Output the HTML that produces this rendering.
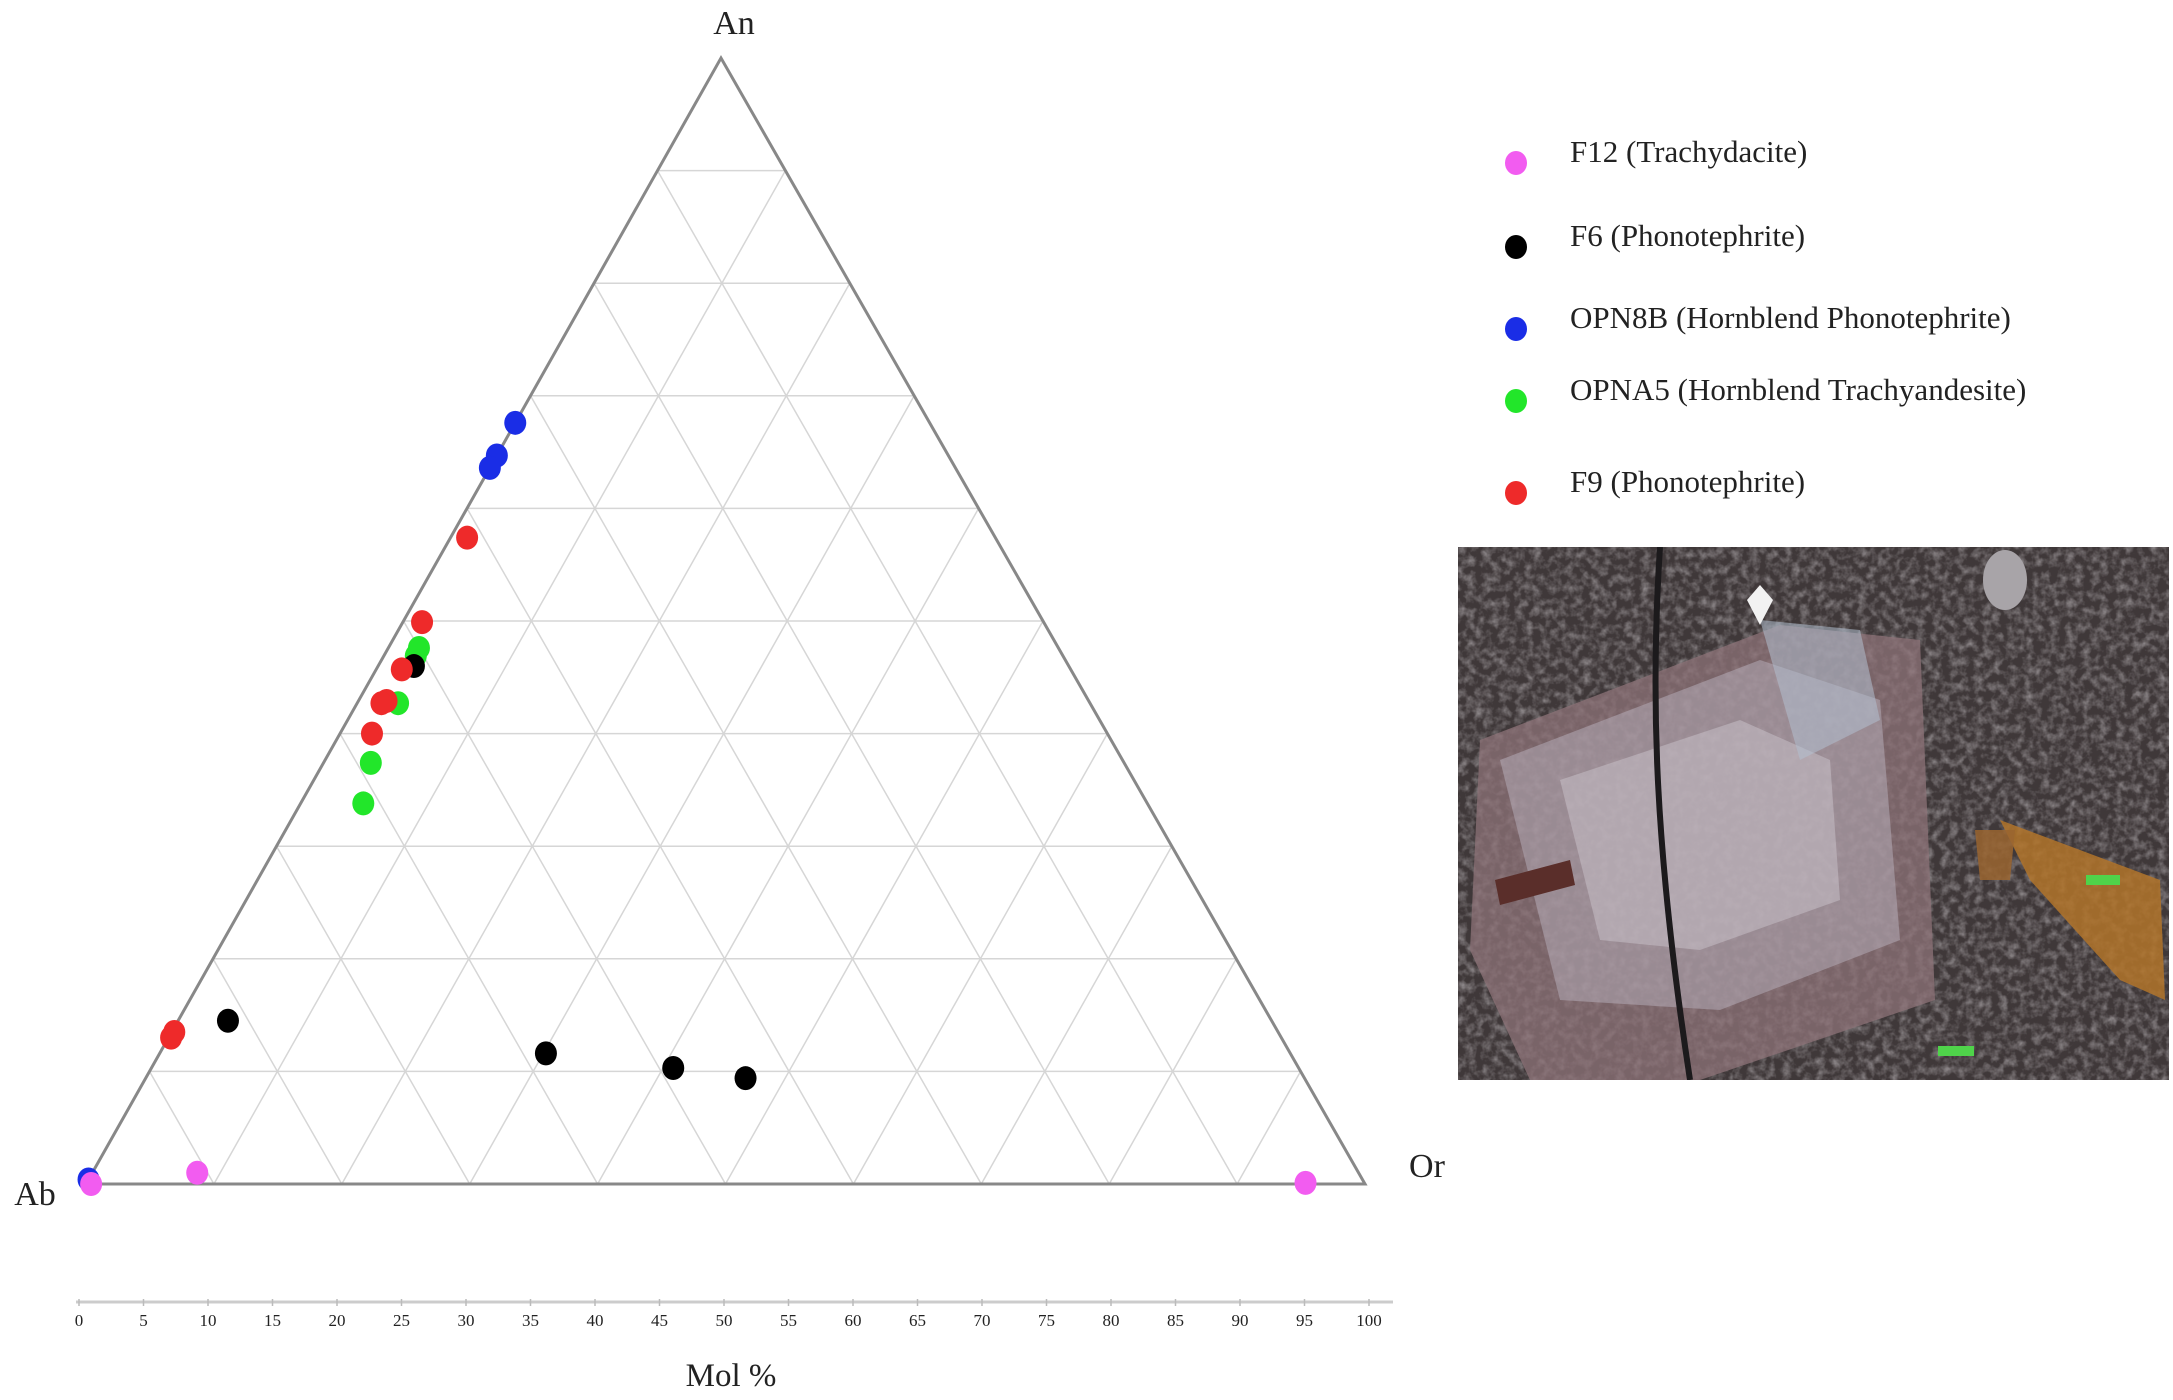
<!DOCTYPE html>
<html><head><meta charset="utf-8"><style>
html,body{margin:0;padding:0;background:#fff;}
svg{display:block;}
text{font-family:"Liberation Serif",serif;fill:#222;}
</style></head><body>
<svg id="chart" width="2173" height="1400" viewBox="0 0 2173 1400">
<g id="grid"></g>
<polygon id="tri" fill="none" stroke="#888" stroke-width="3"></polygon>
<text x="734" y="34" font-size="34" text-anchor="middle">An</text>
<text x="35" y="1205" font-size="34" text-anchor="middle">Ab</text>
<text x="1427" y="1177" font-size="34" text-anchor="middle">Or</text>
<g id="axis"></g>
<text x="731" y="1386" font-size="33" text-anchor="middle">Mol %</text>
<g id="points"></g>
<g id="legend"></g>
<g>
<defs>
<filter id="noise" filterUnits="userSpaceOnUse" x="1458" y="547" width="711" height="533"><feTurbulence type="fractalNoise" baseFrequency="0.12" numOctaves="3" seed="4"/><feColorMatrix values="0 0 0 0 0.55  0 0 0 0 0.52  0 0 0 0 0.54  0 0 0 1.4 -0.55"/></filter>
<clipPath id="pclip"><rect x="1458" y="547" width="711" height="533"/></clipPath>
</defs>
<g clip-path="url(#pclip)">
<rect x="1458" y="547" width="711" height="533" fill="#3f3839"/>
<rect x="1458" y="547" width="711" height="533" filter="url(#noise)" opacity="0.8"/>
<polygon points="1480,740 1780,625 1920,640 1935,1000 1700,1080 1530,1080 1470,950" fill="#8e7378" opacity="0.75"/>
<polygon points="1500,760 1760,660 1880,700 1900,940 1720,1010 1560,1000" fill="#b9b2bd" opacity="0.5"/>
<polygon points="1560,780 1740,720 1830,760 1840,900 1700,950 1600,940" fill="#d8d2da" opacity="0.4"/>
<polygon points="1760,620 1860,630 1880,720 1800,760" fill="#b3c0d0" opacity="0.55"/>
<polygon points="2000,820 2160,880 2165,1000 2120,980 2030,880" fill="#b2742a" opacity="0.85"/>
<polygon points="1975,830 2015,830 2010,880 1980,880" fill="#9a6530" opacity="0.85"/>
<polygon points="1495,880 1570,860 1575,885 1500,905" fill="#5a2e2a"/>
<path d="M1660,547 C1650,700 1655,850 1690,1080" stroke="#1c1a1c" stroke-width="6" fill="none"/>
<polygon points="1747,600 1760,585 1773,600 1760,625" fill="#f2f2f2"/>
<ellipse cx="2005" cy="580" rx="22" ry="30" fill="#a8a4a8"/>
<rect x="2086" y="875" width="34" height="10" fill="#4fd34a"/>
<rect x="1938" y="1046" width="36" height="10" fill="#4fd34a"/>
</g>
</g>
</svg>
<script>
// ternary data: [An %, Or %] ; Ab = 100 - An - Or
const seriesNames = ["F12 (Trachydacite)","F6 (Phonotephrite)","OPN8B (Hornblend Phonotephrite)","OPNA5 (Hornblend Trachyandesite)","F9 (Phonotephrite)"];
const seriesColors = ["#f25cf0","#000000","#1a2de6","#22e62a","#ee2a2a"];
const f12An = [1.0, 0.1, 0.0];
const f12Or = [8.2, 95.3, 0.4];
const f6An = [46.0, 14.5, 11.6, 10.3, 9.4];
const f6Or = [2.8, 3.9, 30.2, 40.8, 46.9];
const opn8bAn = [67.6, 64.7, 63.6, 0.4];
const opn8bOr = [0.0, 0.0, 0.0, 0.0];
const opna5An = [47.6, 46.9, 42.7, 37.4, 33.8];
const opna5Or = [2.4, 2.5, 3.2, 3.7, 4.9];
const f9An = [57.4, 49.9, 45.7, 42.9, 42.7, 40.0, 13.5, 13.0];
const f9Or = [1.3, 1.5, 2.0, 2.2, 1.9, 2.5, 0.2, 0.2];
const axisTicks = ["0","5","10","15","20","25","30","35","40","45","50","55","60","65","70","75","80","85","90","95","100"];

const NS="http://www.w3.org/2000/svg";
const AB={x:86,y:1184}, OR={x:1365,y:1184}, AN={x:721,y:58};
function proj(an,or){const a=an/100,o=or/100;return {x:AB.x+o*(OR.x-AB.x)+a*(AN.x-AB.x), y:AB.y+a*(AN.y-AB.y)};}
function mk(tag,attrs,parent){const e=document.createElementNS(NS,tag);for(const k in attrs)e.setAttribute(k,attrs[k]);parent.appendChild(e);return e;}
document.getElementById('tri').setAttribute('points',`${AB.x},${AB.y} ${OR.x},${OR.y} ${AN.x},${AN.y}`);
const grid=document.getElementById('grid');
for(let i=1;i<10;i++){
  const v=i*10;
  const segs=[[proj(v,0),proj(v,100-v)],[proj(0,v),proj(100-v,v)],[proj(0,100-v),proj(100-v,0)]];
  for(const s of segs){
    const l=mk('line',{x1:s[0].x,y1:s[0].y,x2:s[1].x,y2:s[1].y,stroke:'#d6d6d6','stroke-width':1.5},grid);
    
    
  }
}
const axis=document.getElementById('axis');
const ax0=79, ax1=1369, ay=1302;
const al=mk('line',{x1:ax0-3,y1:ay,x2:ax1+24,y2:ay,stroke:'#ccc','stroke-width':3},axis);


axisTicks.forEach((t,i)=>{
  const x=ax0+(ax1-ax0)*Number(t)/100;
  const tk=mk('line',{x1:x,y1:ay-3,x2:x,y2:ay+4,stroke:'#bbb','stroke-width':1.5},axis);
  
  
  const tx=mk('text',{x:x,y:ay+24,'font-size':17,'text-anchor':'middle','font-family':'Liberation Sans, sans-serif',fill:'#555'},axis);
  tx.textContent=t;
  
  
});
const pts=document.getElementById('points');
const allAn=[f12An,f6An,opn8bAn,opna5An,f9An], allOr=[f12Or,f6Or,opn8bOr,opna5Or,f9Or];
const order=[3,1,2,4,0];
order.forEach(si=>{
  allAn[si].forEach((an,j)=>{
    const p=proj(an,allOr[si][j]);
    const c=mk('ellipse',{cx:p.x,cy:p.y,rx:11,ry:12,fill:seriesColors[si]},pts);
    
    
  });
});
const lg=document.getElementById('legend');
const ly=[163,247,329,401,493];
seriesNames.forEach((n,i)=>{
  const m=mk('ellipse',{cx:1516,cy:ly[i],rx:11,ry:12,fill:seriesColors[i]},lg);
  
  
  const t=mk('text',{x:1570,y:ly[i]-1,'font-size':31},lg);
  t.textContent=n;
  
  
});
</script>
</body></html>
